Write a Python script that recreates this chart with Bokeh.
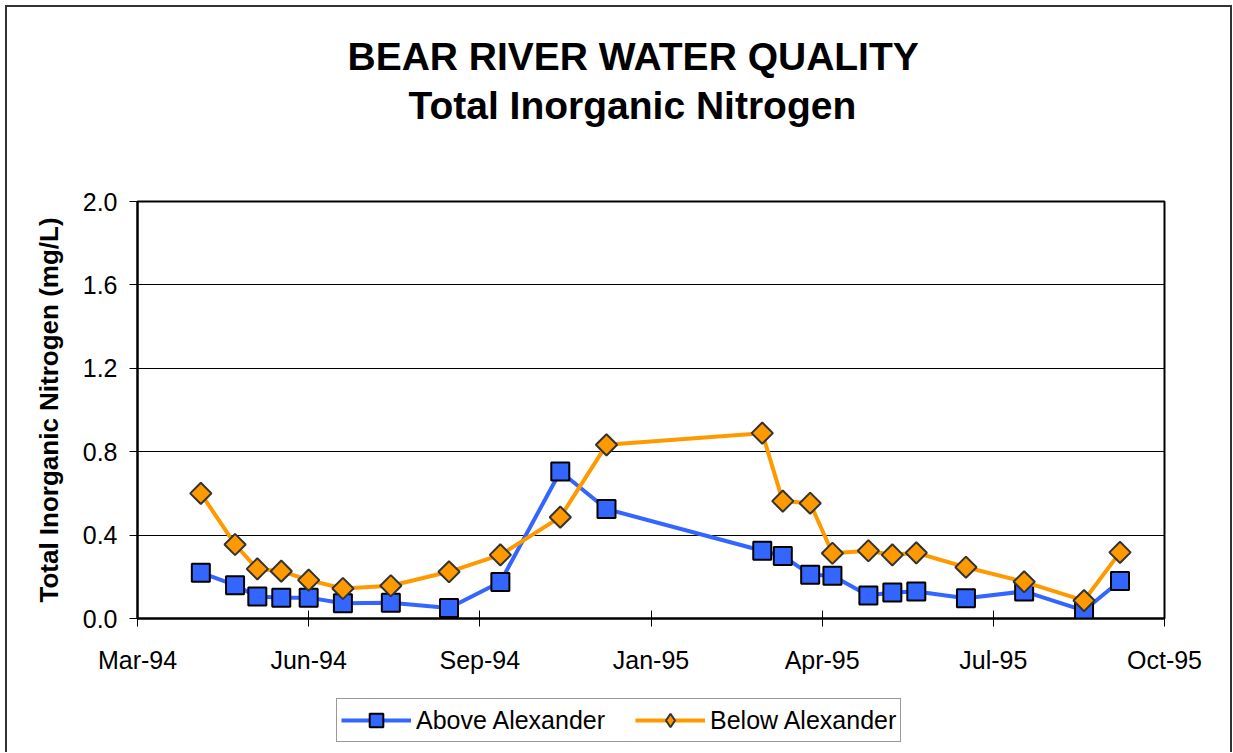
from datetime import datetime
import numpy as np
from bokeh.plotting import figure
from bokeh.layouts import column
from bokeh.models import (ColumnDataSource, Range1d, FixedTicker, DatetimeTickFormatter,
                          NumeralTickFormatter, Legend, LegendItem, Title, LinearAxis,
                          CustomJSTickFormatter)
from bokeh.embed import file_html
from bokeh.resources import INLINE

# ---------------- data ----------------
DATES = ["1994-04-13", "1994-05-03", "1994-05-16", "1994-05-30", "1994-06-15",
         "1994-07-05", "1994-08-02", "1994-09-05", "1994-10-05", "1994-11-09",
         "1994-12-06", "1995-03-07", "1995-03-19", "1995-04-04", "1995-04-17",
         "1995-05-08", "1995-05-22", "1995-06-05", "1995-07-04", "1995-08-07",
         "1995-09-11", "1995-10-02"]
ABOVE = [0.22, 0.16, 0.105, 0.10, 0.10, 0.073, 0.075, 0.05, 0.175, 0.705,
         0.525, 0.325, 0.30, 0.21, 0.205, 0.11, 0.125, 0.13, 0.097, 0.13,
         0.038, 0.18]
BELOW = [0.60, 0.355, 0.238, 0.227, 0.184, 0.144, 0.157, 0.224, 0.305, 0.486,
         0.833, 0.889, 0.563, 0.553, 0.313, 0.325, 0.305, 0.315, 0.246, 0.176,
         0.086, 0.317]
X_TICKS = ["1994-03-07", "1994-06-15", "1994-09-23", "1995-01-01",
           "1995-04-11", "1995-07-20", "1995-10-28"]
Y_TICKS = [0.0, 0.4, 0.8, 1.2, 1.6, 2.0]
SERIES = ["Above Alexander", "Below Alexander"]
TITLE = "BEAR RIVER WATER QUALITY"
SUBTITLE = "Total Inorganic Nitrogen"
Y_LABEL = "Total Inorganic Nitrogen (mg/L)"

FONT = "Liberation Sans"
BLUE, ORANGE = "#3366FF", "#FF9900"


def to_dt(s):
    return datetime.strptime(s, "%Y-%m-%d")


def to_ms(s):
    return (to_dt(s) - datetime(1970, 1, 1)).total_seconds() * 1000.0


src = ColumnDataSource(dict(date=[to_dt(d) for d in DATES], above=ABOVE, below=BELOW))

W, H_MAIN, H_KEY = 1232, 690, 62

p = figure(width=W, height=H_MAIN, x_axis_type="datetime",
           x_range=Range1d(to_dt(X_TICKS[0]), to_dt(X_TICKS[-1])),
           y_range=Range1d(Y_TICKS[0], Y_TICKS[-1]),
           output_backend="svg", toolbar_location=None,
           min_border_left=137, min_border_right=W - 1164,
           min_border_top=201, min_border_bottom=H_MAIN - 618)
xa = p.xaxis[0]
ya = p.yaxis[0]

p.background_fill_color = "white"
p.border_fill_color = "white"
p.outline_line_color = "black"
p.outline_line_width = 2
p.outline_line_alpha = 1.0

# above panels, from the frame outward: blank spacer, subtitle, title
spacer = LinearAxis(ticker=FixedTicker(ticks=[to_ms(X_TICKS[3])]),
                    formatter=CustomJSTickFormatter(code="return ''"),
                    axis_line_color=None,
                    major_tick_line_color=None, minor_tick_line_color=None,
                    major_tick_in=0, major_tick_out=73, minor_tick_in=0,
                    minor_tick_out=0, major_label_standoff=0,
                    major_label_text_font_size="1px")
p.add_layout(spacer, "above")
sub = Title(text=SUBTITLE, align="left", offset=271, text_font=FONT,
            text_font_size="39px", text_font_style="bold", text_color="black",
            standoff=4)
main = Title(text=TITLE, align="left", offset=210, text_font=FONT,
             text_font_size="39px", text_font_style="bold", text_color="black",
             standoff=4)
p.add_layout(sub, "above")
p.add_layout(main, "above")

# x axis
xa.ticker = FixedTicker(ticks=[to_ms(t) for t in X_TICKS])
fmt = "%b-%y"
xa.formatter = DatetimeTickFormatter(milliseconds=fmt, seconds=fmt, minsec=fmt,
                                     minutes=fmt, hourmin=fmt, hours=fmt,
                                     days=fmt, months=fmt, years=fmt)
xa.major_tick_in = 8
xa.major_tick_out = 8
xa.minor_tick_line_color = None
xa.axis_line_width = 2
xa.axis_line_color = "black"
xa.major_tick_line_color = "black"
xa.major_tick_line_width = 1
xa.major_label_text_font = FONT
xa.major_label_text_font_size = "25px"
xa.major_label_text_color = "black"
xa.major_label_standoff = 19

# y axis
ya.ticker = FixedTicker(ticks=Y_TICKS)
ya.formatter = NumeralTickFormatter(format="0.0")
ya.major_tick_in = 0
ya.major_tick_out = 8
ya.minor_tick_line_color = None
ya.axis_line_width = 2
ya.axis_line_color = "black"
ya.major_tick_line_color = "black"
ya.major_label_text_font = FONT
ya.major_label_text_font_size = "25px"
ya.major_label_text_color = "black"
ya.major_label_standoff = 12
ya.axis_label = Y_LABEL
ya.axis_label_text_font = FONT
ya.axis_label_text_font_size = "26px"
ya.axis_label_text_font_style = "bold"
ya.axis_label_text_color = "black"
ya.axis_label_standoff = 16

p.xgrid.visible = False
p.ygrid.ticker = FixedTicker(ticks=Y_TICKS)
p.ygrid.grid_line_color = "black"
p.ygrid.grid_line_width = 1

# series
p.line("date", "above", source=src, line_color=BLUE, line_width=4)
p.scatter("date", "above", source=src, marker="square", size=18,
          fill_color=BLUE, line_color="black", line_width=2)
p.line("date", "below", source=src, line_color=ORANGE, line_width=4)
p.scatter("date", "below", source=src, marker="square", angle=np.pi / 4, size=15,
          fill_color=ORANGE, line_color="#333333", line_width=2)

# ---------------- key strip below the chart ----------------
q = figure(width=W, height=H_KEY, x_axis_type="datetime",
           x_range=Range1d(to_dt(X_TICKS[0]), to_dt(X_TICKS[-1])),
           y_range=Range1d(10, 11),  # series lie outside this strip: only the key shows
           output_backend="svg", toolbar_location=None,
           x_axis_location=None, y_axis_location=None,
           min_border=0, min_border_left=0, min_border_right=0,
           min_border_top=0, min_border_bottom=0)
q.grid.visible = False
q.outline_line_color = None
q.background_fill_color = "white"
q.border_fill_color = "white"
ka_l = q.line("date", "above", source=src, line_color=BLUE, line_width=4)
ka_s = q.scatter("date", "above", source=src, marker="square", size=18,
                 fill_color=BLUE, line_color="black", line_width=2)
kb_l = q.line("date", "below", source=src, line_color=ORANGE, line_width=4)
kb_s = q.scatter("date", "below", source=src, marker="diamond", size=20,
                 fill_color=ORANGE, line_color="#333333", line_width=2)

legend = Legend(items=[LegendItem(label=SERIES[0], renderers=[ka_l, ka_s]),
                       LegendItem(label=SERIES[1], renderers=[kb_l, kb_s])],
                orientation="horizontal", location=(199, 10),
                label_text_font=FONT, label_text_font_size="25px",
                label_text_color="black",
                glyph_width=70, glyph_height=34, label_standoff=5, spacing=30,
                padding=4, margin=0,
                border_line_color="#333333", border_line_width=1,
                background_fill_color="white", background_fill_alpha=1.0)
q.add_layout(legend)

layout = column(p, q, spacing=0)
# chart-area border (drawn over the canvas, open at the bottom like the reference)
layout.stylesheets = [":host { position: relative; } "
                      ":host::after { content: ''; position: absolute; left: 5px; top: 5px; "
                      "width: 1227px; height: 747px; border: 2px solid #333333; "
                      "border-bottom: none; box-sizing: border-box; pointer-events: none; "
                      "z-index: 100; }"]

open("out.html", "w").write(file_html(layout, INLINE))
